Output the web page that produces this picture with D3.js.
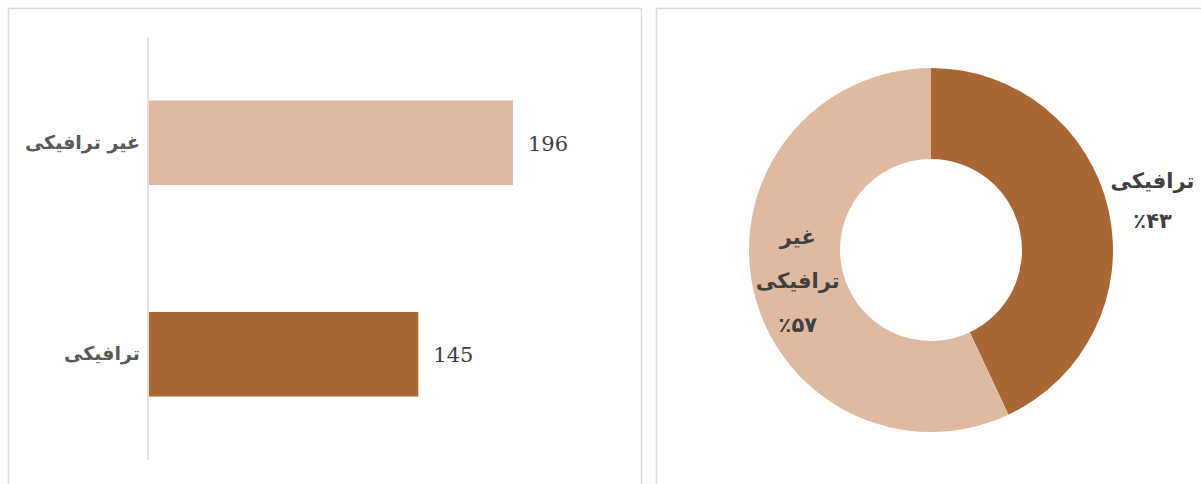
<!DOCTYPE html>
<html>
<head>
<meta charset="utf-8">
<script src="https://cdn.jsdelivr.net/npm/d3@7"></script>
<style>
  body { margin: 0; background: #fff; }
  svg { display: block; }
</style>
</head>
<body>
<script>
// categories and values
const categories = ["غیر ترافیکی", "ترافیکی"];
const counts = [196, 145];
const colors = ["#e0baa0", "#a86735"];

// donut: order starts at 12 o'clock going clockwise
const pieCats = ["ترافیکی", "غیر ترافیکی"];
const pieShares = [43, 57];
const pieColors = ["#a86735", "#e0baa0"];
const pieLabels = [["ترافیکی", "٪۴۳"], ["غیر", "ترافیکی", "٪۵۷"]];

const svg = d3.select("body").append("svg")
  .attr("width", 1201)
  .attr("height", 484);

// panel frames
svg.append("rect")
  .attr("x", 8.5).attr("y", 8.5)
  .attr("width", 633).attr("height", 500)
  .attr("fill", "none").attr("stroke", "#d9d9d9").attr("stroke-width", 1.5);
svg.append("rect")
  .attr("x", 656.5).attr("y", 8.5)
  .attr("width", 560).attr("height", 500)
  .attr("fill", "none").attr("stroke", "#d9d9d9").attr("stroke-width", 1.5);

// ===== bar chart =====
const x = d3.scaleLinear()
  .domain([0, 196])
  .range([149, 513]);

const y = d3.scaleBand()
  .domain(categories)
  .range([37, 460])
  .paddingInner(0.6)
  .paddingOuter(0.3);

const bars = svg.append("g");

bars.selectAll("rect")
  .data(categories)
  .enter()
  .append("rect")
  .attr("x", x(0))
  .attr("y", d => y(d))
  .attr("width", (d, i) => x(counts[i]) - x(0))
  .attr("height", y.bandwidth())
  .attr("fill", (d, i) => colors[i]);

bars.selectAll(".val")
  .data(categories)
  .enter()
  .append("text")
  .attr("class", "val")
  .attr("x", (d, i) => x(counts[i]) + 15)
  .attr("y", d => y(d) + y.bandwidth() / 2 + 8)
  .attr("font-family", "DejaVu Serif, serif")
  .attr("font-size", 21)
  .attr("fill", "#404040")
  .text((d, i) => counts[i]);

// category axis on the left
const axis = svg.append("g")
  .attr("transform", "translate(148,0)")
  .call(d3.axisLeft(y).tickSize(0).tickPadding(8));
axis.select(".domain")
  .attr("stroke", "#d9d9d9").attr("stroke-width", 1.5)
  .attr("d", "M0,37V460");
axis.selectAll("text")
  .attr("font-family", "DejaVu Sans, sans-serif")
  .attr("font-weight", "bold")
  .attr("font-size", 19)
  .attr("fill", "#595959")
  .attr("direction", "rtl")
  .attr("text-anchor", "start");

// ===== donut =====
const cx = 931, cy = 250;
const rOuter = 182, rInner = 91;

const pie = d3.pie().sort(null).value(d => d);
const arc = d3.arc().innerRadius(rInner).outerRadius(rOuter);

const donut = svg.append("g").attr("transform", `translate(${cx},${cy})`);

const arcs = pie(pieShares);

donut.selectAll("path")
  .data(arcs)
  .enter()
  .append("path")
  .attr("d", arc)
  .attr("fill", (d, i) => pieColors[i]);

// label positions: first one sits outside the ring, second inside
const labelArc = [
  d3.arc().innerRadius(rOuter + 45).outerRadius(rOuter + 45),
  d3.arc().innerRadius((rInner + rOuter) / 2).outerRadius((rInner + rOuter) / 2)
];

donut.selectAll(".plabel")
  .data(arcs)
  .enter()
  .append("text")
  .attr("class", "plabel")
  .attr("transform", (d, i) => {
    const c = labelArc[i].centroid(d);
    return `translate(${c[0]},${c[1]})`;
  })
  .attr("text-anchor", "middle")
  .attr("font-family", "DejaVu Sans, sans-serif")
  .attr("font-weight", "bold")
  .attr("font-size", 21)
  .attr("fill", "#404040")
  .each(function(d, i) {
    const lines = pieLabels[i];
    const lh = i === 0 ? 40 : 44;
    const t = d3.select(this);
    lines.forEach((s, k) => {
      t.append("tspan")
        .attr("x", 0)
        .attr("y", (k - (lines.length - 1) / 2) * lh + 8)
        .attr("direction", "rtl")
        .attr("unicode-bidi", "embed")
        .text(s);
    });
  });
</script>
</body>
</html>
